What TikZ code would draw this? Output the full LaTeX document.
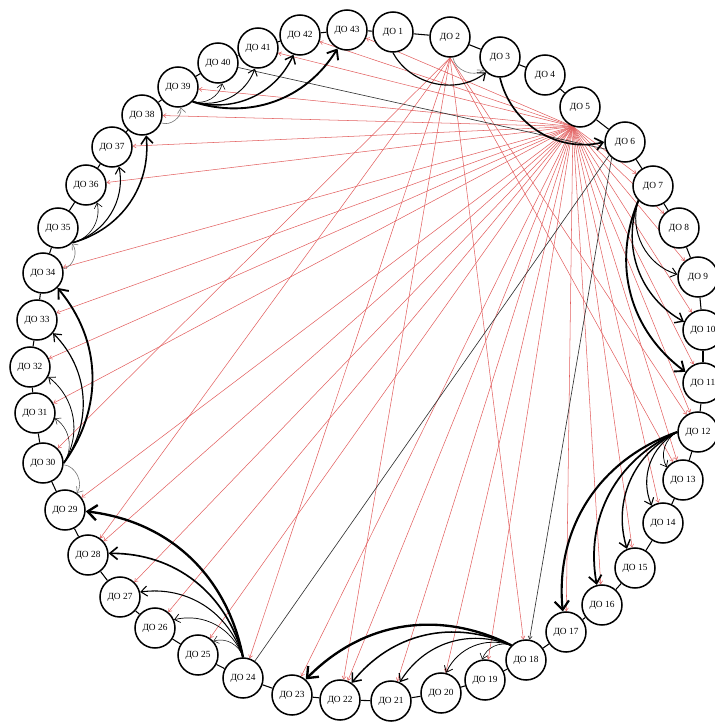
\documentclass[tikz,border=0pt]{standalone}
\usepackage{fontspec}
\setmainfont{Liberation Serif}
\usetikzlibrary{arrows.meta}
\pgfdeclarelayer{background}
\pgfsetlayers{background,main}
\definecolor{redl}{RGB}{226,95,95}
\begin{document}
\begin{tikzpicture}[x=0.03cm,y=-0.03cm,
  dnode/.style={circle,draw=black,line width=1.3pt,fill=white,minimum size=1.2cm,inner sep=0pt,font=\fontsize{8}{9}\selectfont},
  chain/.style={draw=black,line width=0.9pt},
  redline/.style={draw=redl,line width=0.45pt,-{Straight Barb[length=2.5pt,width=3.5pt]}},
  blkline/.style={draw=black!80,line width=0.55pt},
  arc/.style={draw=black,line width=#1,-{Straight Barb[length=3pt 2.5,width=5pt 4]}},
  garc/.style={draw=black!55,line width=0.5pt,-{Straight Barb[length=3pt 2.5,width=5pt 4]}}]
\useasboundingbox (0,0) rectangle (714,725);
\foreach \i/\x/\y in {1/393/32,2/450/37,3/500/57,4/545/75,5/580/107,6/625/142,7/653/186,8/679/228,9/698/277,10/703/330,11/703/383,12/698/432,13/683/480,14/663/523,15/635/568,16/602/605,17/566/632,18/526/660,19/485/680,20/441/693,21/391/701,22/340/700,23/292/695,24/243/678,25/198/655,26/155/628,27/120/597,28/88/555,29/65/510,30/43/463,31/35/413,32/30/367,33/37/320,34/43/273,35/58/228,36/86/185,37/112/147,38/142/115,39/178/87,40/218/63,41/258/48,42/300/35,43/347/30}
  \node[dnode] (n\i) at (\x,\y) {ДО \i};
\begin{pgfonlayer}{background}
\foreach \i [evaluate=\i as \j using {int(mod(\i,43)+1)}] in {1,...,43}
  \draw[chain] (n\i) -- (n\j);
\foreach \j in {7,8,9,10,11,12,13,14,15,16,17,19,20,21,22,23,25,26,27,28,29,31,32,33,34,36,37,38,39,41,42,43}
  \draw[redline] (n5.250) -- (n\j);
\foreach \j in {12,13,18,22,24,28,30}
  \draw[redline] (n2.south) -- (n\j);
\draw[blkline] (n40) -- (n6.200);
\draw[blkline] (n24) -- (n6.220);
\draw[blkline,-{Straight Barb[length=2.5pt,width=3.5pt]}] (n6.230) -- (n18);
\end{pgfonlayer}
% curved arrows
\draw[arc=1.0pt] (n1.south) to[bend right=50] (n3);
\draw[garc] (n2) to[bend right=60] (n3);
\draw[arc=1.4pt] (n3.south) to[bend right=45] (n6.west);
\draw[arc=0.8pt] (n7.south west) to[bend right=45] (n9);
\draw[arc=1.2pt] (n7.south west) to[bend right=40] (n10);
\draw[arc=1.6pt] (n7.south west) to[bend right=38] (n11);
\draw[arc=0.6pt] (n12.west) to[bend right=45] (n13);
\draw[arc=0.9pt] (n12.west) to[bend right=42] (n14);
\draw[arc=1.2pt] (n12.west) to[bend right=40] (n15);
\draw[arc=1.5pt] (n12.west) to[bend right=38] (n16);
\draw[arc=1.8pt] (n12.west) to[bend right=38] (n17);
\draw[arc=0.5pt] (n18.north west) to[bend right=45] (n19);
\draw[arc=0.7pt] (n18.north west) to[bend right=42] (n20);
\draw[arc=1.0pt] (n18.north west) to[bend right=40] (n21);
\draw[arc=1.3pt] (n18.north west) to[bend right=38] (n22);
\draw[arc=2.0pt] (n18.north west) to[bend right=36] (n23);
\draw[arc=0.4pt] (n24.north) to[bend right=45] (n25);
\draw[arc=0.6pt] (n24.north) to[bend right=42] (n26);
\draw[arc=0.9pt] (n24.north) to[bend right=40] (n27);
\draw[arc=1.4pt] (n24.north) to[bend right=38] (n28);
\draw[arc=2.0pt] (n24.north) to[bend right=36] (n29);
\draw[garc] (n30) to[bend left=60] (n29);
\draw[arc=0.4pt] (n30.east) to[bend right=45] (n31);
\draw[arc=0.7pt] (n30.east) to[bend right=42] (n32);
\draw[arc=1.0pt] (n30.east) to[bend right=40] (n33);
\draw[arc=1.6pt] (n30.east) to[bend right=38] (n34);
\draw[garc] (n34) to[bend right=60] (n35);
\draw[arc=0.5pt] (n35.south east) to[bend right=45] (n36);
\draw[arc=0.9pt] (n35.south east) to[bend right=42] (n37);
\draw[arc=1.3pt] (n35.south east) to[bend right=40] (n38);
\draw[garc] (n38) to[bend right=60] (n39);
\draw[arc=0.5pt] (n39.south east) to[bend right=45] (n40);
\draw[arc=0.8pt] (n39.south east) to[bend right=42] (n41);
\draw[arc=1.2pt] (n39.south east) to[bend right=40] (n42);
\draw[arc=1.6pt] (n39.south east) to[bend right=38] (n43);
\end{tikzpicture}
\end{document}
